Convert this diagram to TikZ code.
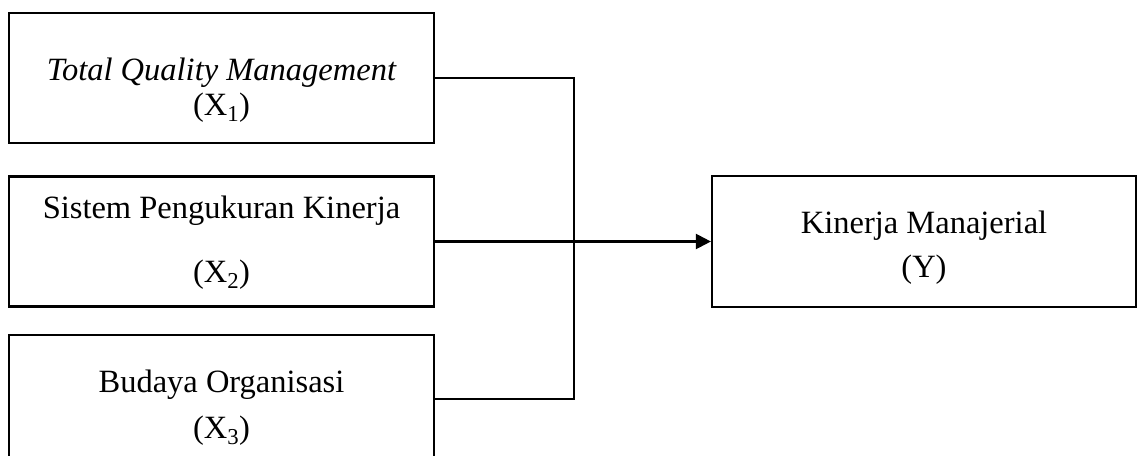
\documentclass[tikz,border=0pt]{standalone}
\usepackage{fontspec}
\setmainfont{Liberation Serif}
\usetikzlibrary{arrows.meta}
\begin{document}
\begin{tikzpicture}[x=1pt,y=-1pt,
  box/.style={draw, line width=2.2pt, minimum width=425pt, inner sep=0pt},
  lbl/.style={font=\fontsize{32.5}{38}\selectfont, inner sep=0pt, anchor=base},
  conn/.style={line width=2.2pt},
  arr/.style={line width=2.2pt, -{Triangle[length=15pt,width=15pt]}}]
\useasboundingbox (0,0) rectangle (1137,455);
\clip (0,0) rectangle (1137,455);
\node[box, minimum height=130pt] (b1) at (221.5,78) {};
\node[box, minimum height=130pt] (b2) at (221.5,241.5) {};
\node[box, minimum height=128pt] (b3) at (221.5,399) {};
\node[box, minimum width=424pt, minimum height=131pt] (by) at (924,241.5) {};
\node[lbl] (t1a) at (221.5,80) {\itshape Total Quality Management};
\node[lbl] (t1b) at (221.5,115) {(X\textsubscript{1})};
\node[lbl] (t2a) at (221.5,218) {Sistem Pengukuran Kinerja};
\node[lbl] (t2b) at (221.5,282) {(X\textsubscript{2})};
\node[lbl] (t3a) at (221.5,392) {Budaya Organisasi};
\node[lbl] (t3b) at (221.5,438) {(X\textsubscript{3})};
\node[lbl] (tya) at (924,233) {Kinerja Manajerial};
\node[lbl] (tyb) at (924,277) {(Y)};
\coordinate (j) at (574,0);
\draw[conn] (b1.east) -- (b1.east -| j) -- (b3.east -| j) -- (b3.east);
\draw[arr] (b2.east) -- (by.west);
\end{tikzpicture}
\end{document}
